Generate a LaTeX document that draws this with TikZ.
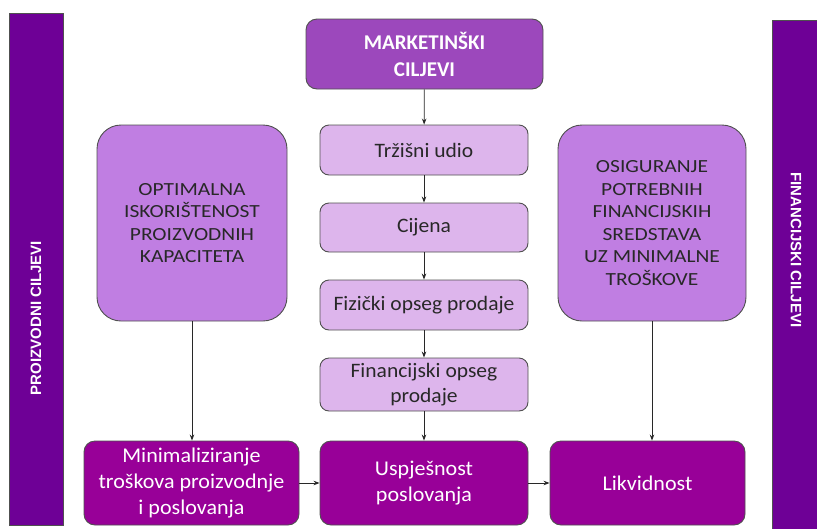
\documentclass[tikz,border=0pt]{standalone}
\usepackage{fontspec}
\setmainfont{Carlito}
\newfontfamily\barfont{Liberation Sans}
\newfontfamily\widefont{Carlito}[FakeStretch=1.16]
\newfontfamily\medfont{Carlito}[FakeStretch=1.05]
\usetikzlibrary{arrows.meta}
\definecolor{barpurple}{RGB}{110,0,150}
\definecolor{mkpurple}{RGB}{156,72,188}
\definecolor{lightlav}{RGB}{221,181,236}
\definecolor{midlav}{RGB}{192,126,226}
\definecolor{magbox}{RGB}{152,0,152}
\definecolor{edgegray}{RGB}{80,80,80}
\definecolor{txtdark}{RGB}{40,40,40}
\tikzset{
  basebox/.style={draw=edgegray, line width=0.9pt, inner sep=0pt, align=center},
  mkbox/.style={basebox, fill=mkpurple, rounded corners=11pt, text=white, font=\bfseries\fontsize{21}{27}\selectfont},
  lightbox/.style={basebox, fill=lightlav, rounded corners=9pt, text=txtdark, font=\medfont\fontsize{20.5}{25}\selectfont},
  bigbox/.style={basebox, fill=midlav, rounded corners=24pt, text=txtdark, font=\widefont\fontsize{18.5}{22.5}\selectfont},
  botbox/.style={basebox, fill=magbox, rounded corners=11pt, text=white, font=\medfont\fontsize{21}{26}\selectfont},
  sidebar/.style={draw=edgegray, line width=0.9pt, fill=barpurple},
  bartext/.style={text=white, font=\barfont\bfseries\fontsize{15}{17}\selectfont},
  conn/.style={draw=txtdark, line width=0.8pt, -{Stealth[length=6pt,width=4.5pt]}}
}
\begin{document}
\begin{tikzpicture}[x=1pt,y=-1pt]
\useasboundingbox (0,0) rectangle (817,528);
\clip (0,0) rectangle (817,528);
% side bars
\draw[sidebar] (9,13) rectangle (63,525);
\draw[sidebar] (772,20) rectangle (822,533);
\node[bartext, rotate=90] (lbar) at (36,318) {PROIZVODNI CILJEVI};
\node[bartext, rotate=-90] (rbar) at (796,250) {FINANCIJSKI CILJEVI};
% top
\node[mkbox, minimum width=237pt, minimum height=70pt] (mk) at (424.5,54) {MARKETINŠKI\\CILJEVI};
% center column
\node[lightbox, minimum width=208pt, minimum height=50pt] (t1) at (424,150) {Tržišni udio};
\node[lightbox, minimum width=208pt, minimum height=49pt] (t2) at (424,227.5) {Cijena};
\node[lightbox, minimum width=208pt, minimum height=50pt] (t3) at (424,305) {Fizički opseg prodaje};
\node[lightbox, minimum width=208pt, minimum height=53pt] (t4) at (424,384.5) {Financijski opseg\\prodaje};
% big side boxes
\node[bigbox, minimum width=190pt, minimum height=196pt] (lb) at (192,223) {OPTIMALNA\\ISKORIŠTENOST\\PROIZVODNIH\\KAPACITETA};
\node[bigbox, minimum width=188pt, minimum height=196pt] (rb) at (652,223) {OSIGURANJE\\POTREBNIH\\FINANCIJSKIH\\SREDSTAVA\\UZ MINIMALNE\\TROŠKOVE};
% bottom row
\node[botbox, minimum width=215pt, minimum height=84pt] (b1) at (191.5,483) {Minimaliziranje\\troškova proizvodnje\\i poslovanja};
\node[botbox, minimum width=208pt, minimum height=84pt] (b2) at (424,483) {Uspješnost\\poslovanja};
\node[botbox, minimum width=195pt, minimum height=84pt] (b3) at (647.5,483) {Likvidnost};
% connectors
\draw[conn] (mk) -- (t1);
\draw[conn] (t1) -- (t2);
\draw[conn] (t2) -- (t3);
\draw[conn] (t3) -- (t4);
\draw[conn] (t4) -- (b2);
\draw[conn] (lb.south) -- (lb.south |- b1.north);
\draw[conn] (rb.south) -- (rb.south |- b3.north);
\draw[conn] (b1) -- (b2);
\draw[conn] (b2) -- (b3);
\end{tikzpicture}
\end{document}
